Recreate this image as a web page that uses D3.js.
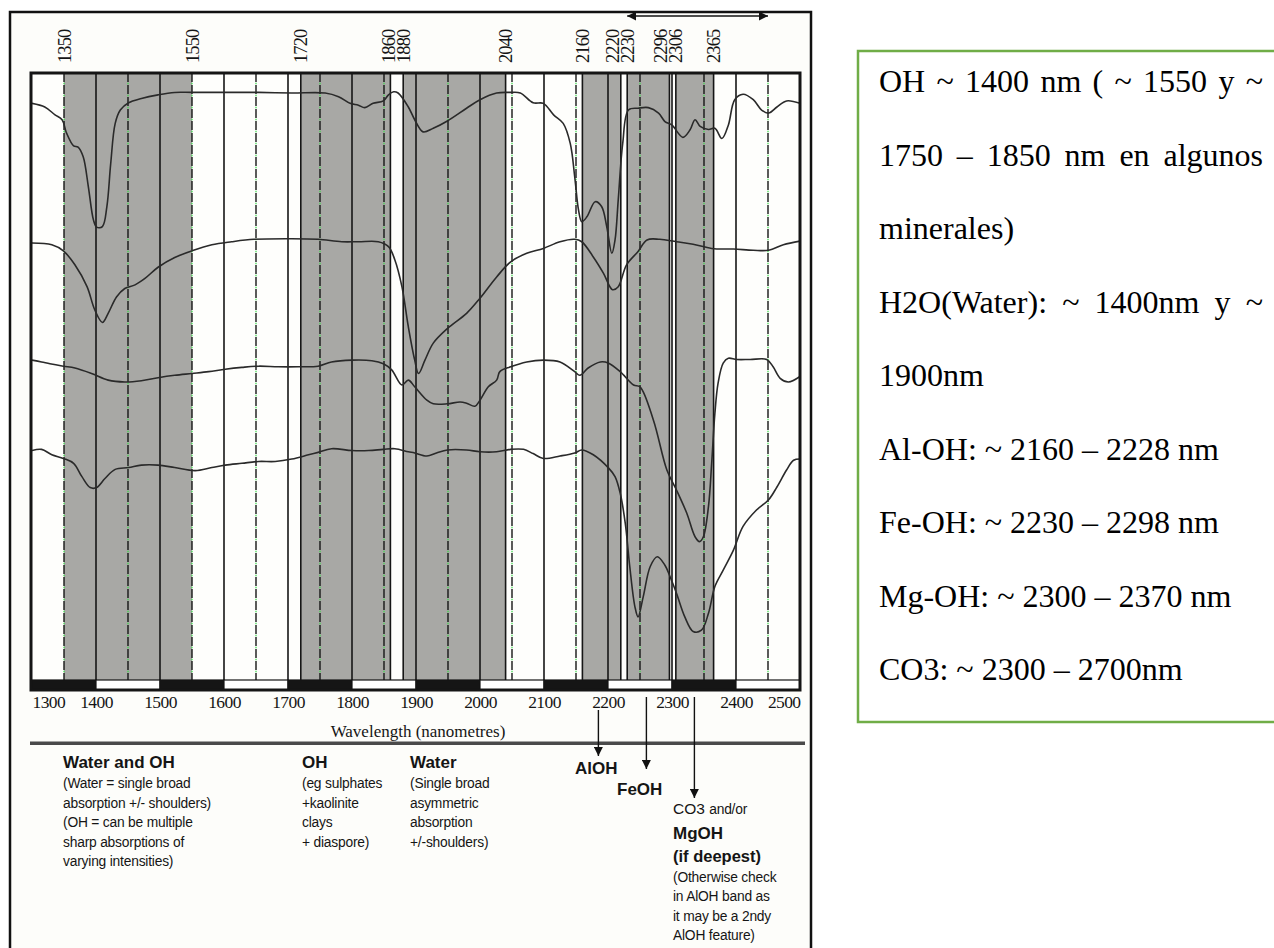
<!DOCTYPE html>
<html>
<head>
<meta charset="utf-8">
<script src="https://cdn.jsdelivr.net/npm/d3@7"></script>
<style>
  html, body { margin: 0; padding: 0; background: #fff; }
  svg { display: block; }
  .serif { font-family: "Liberation Serif", "Times New Roman", serif; }
  .sans { font-family: "Liberation Sans", Arial, sans-serif; }
</style>
</head>
<body>
<div id="chart"></div>
<script>
// ---------- data ----------
// absorption bands shaded in grey (nm)
const bands = [[1350, 1550], [1720, 1860], [1880, 2040], [2160, 2220], [2230, 2296], [2306, 2365]];
// wavelengths written vertically above the plot
const markerLabels = [1350, 1550, 1720, 1860, 1880, 2040, 2160, 2220, 2230, 2296, 2306, 2365];
const tickValues = [1300, 1400, 1500, 1600, 1700, 1800, 1900, 2000, 2100, 2200, 2300, 2400, 2500];
const topArrowRange = [2230, 2450];

// spectra: [wavelength nm, relative reflectance (offset)]
const spectrumA = [[1300,95.0],[1320,94.4],[1336,93.1],[1347,92.3],[1354,90.1],[1365,88.0],[1372,87.8],[1380,86.2],[1388,81.3],[1396,75.8],[1401,74.6],[1410,74.7],[1417,78.0],[1423,85.1],[1430,91.7],[1438,93.9],[1451,95.1],[1471,95.8],[1497,96.4],[1523,96.8],[1550,96.8],[1602,96.8],[1654,96.8],[1706,96.7],[1758,96.7],[1779,96.1],[1797,95.0],[1810,94.7],[1820,94.3],[1833,95.0],[1849,95.4],[1857,96.4],[1865,96.9],[1872,96.7],[1888,94.4],[1898,92.3],[1911,90.3],[1927,90.9],[1949,92.1],[1979,94.2],[2000,95.6],[2026,96.7],[2047,96.8],[2063,96.7],[2083,95.1],[2099,95.0],[2115,93.1],[2130,91.7],[2141,88.4],[2148,82.9],[2154,77.4],[2159,75.5],[2167,76.3],[2180,78.8],[2190,78.0],[2198,74.7],[2206,70.3],[2211,72.5],[2216,79.1],[2223,88.4],[2232,93.9],[2247,94.2],[2263,94.3],[2279,93.4],[2289,92.0],[2300,91.4],[2317,89.4],[2328,90.6],[2336,92.3],[2344,91.2],[2357,90.7],[2367,90.9],[2378,89.2],[2388,91.4],[2398,95.6],[2411,96.5],[2427,95.6],[2440,93.9],[2451,93.4],[2464,94.4],[2479,95.4],[2500,95.0]];
const spectrumB = [[1300,72.0],[1331,71.7],[1349,70.7],[1367,68.4],[1386,64.8],[1398,61.0],[1410,58.9],[1419,60.4],[1432,63.1],[1445,64.5],[1461,65.1],[1477,66.2],[1497,68.0],[1523,69.6],[1550,70.7],[1581,71.7],[1612,72.2],[1647,72.6],[1706,72.7],[1747,72.6],[1784,72.2],[1810,72.2],[1841,72.2],[1857,71.4],[1867,69.2],[1878,64.8],[1888,58.2],[1898,52.7],[1904,50.5],[1914,52.7],[1927,55.5],[1949,57.9],[1979,60.4],[2000,62.9],[2026,66.4],[2048,68.9],[2073,70.3],[2099,71.1],[2125,72.2],[2148,72.6],[2159,72.2],[2177,69.7],[2193,67.0],[2207,64.3],[2216,64.8],[2229,68.4],[2247,70.6],[2261,72.5],[2281,72.6],[2307,72.2],[2333,71.8],[2362,71.1],[2396,71.0],[2427,70.8],[2451,70.8],[2474,71.7],[2500,72.3]];
const spectrumC = [[1300,52.7],[1315,52.4],[1328,52.1],[1349,51.7],[1367,51.4],[1393,50.5],[1419,49.4],[1445,49.1],[1471,49.3],[1497,49.8],[1523,50.2],[1550,50.5],[1576,50.8],[1602,51.2],[1628,51.5],[1654,51.7],[1685,51.6],[1716,51.6],[1747,51.7],[1768,52.4],[1800,52.7],[1831,52.6],[1849,52.1],[1862,51.1],[1878,48.6],[1888,49.4],[1898,48.3],[1917,46.1],[1927,45.5],[1949,45.5],[1969,45.8],[1979,45.6],[1992,45.1],[2000,46.1],[2013,48.3],[2026,49.4],[2031,50.8],[2048,51.6],[2073,52.4],[2099,52.7],[2125,52.4],[2148,50.8],[2156,50.2],[2169,51.4],[2188,52.4],[2201,52.2],[2219,50.8],[2240,48.6],[2250,48.3],[2271,42.8],[2292,34.6],[2307,31.3],[2323,27.5],[2336,23.6],[2343,22.8],[2349,23.6],[2357,28.6],[2362,35.7],[2367,43.9],[2372,48.9],[2380,52.2],[2388,53.0],[2401,52.8],[2422,52.8],[2448,52.8],[2458,51.6],[2469,49.7],[2482,49.1],[2500,50.0]];
const spectrumD = [[1300,37.8],[1315,38.0],[1331,37.1],[1349,36.5],[1365,35.7],[1378,33.5],[1391,31.7],[1401,31.7],[1414,33.2],[1430,34.7],[1451,35.0],[1471,35.4],[1497,35.4],[1523,35.0],[1555,34.5],[1581,35.0],[1602,35.4],[1628,35.7],[1654,36.0],[1680,36.0],[1706,36.4],[1732,37.1],[1747,37.5],[1768,38.1],[1800,37.8],[1826,37.8],[1849,38.0],[1867,38.1],[1888,37.6],[1898,37.4],[1917,36.9],[1932,37.4],[1949,37.9],[1979,37.9],[2000,37.6],[2026,37.6],[2048,38.0],[2068,38.0],[2083,37.3],[2099,36.5],[2125,36.9],[2148,37.4],[2159,37.9],[2177,37.1],[2201,34.9],[2211,33.5],[2219,30.8],[2227,25.8],[2234,18.7],[2242,12.1],[2247,10.4],[2255,13.7],[2266,18.7],[2277,20.3],[2289,18.9],[2297,17.0],[2307,14.3],[2320,10.4],[2333,8.0],[2346,8.2],[2357,11.0],[2367,15.4],[2380,18.1],[2396,21.4],[2411,25.3],[2432,28.0],[2451,29.7],[2464,31.8],[2479,34.6],[2490,36.2],[2500,36.4]];

// feature pointers under the axis
const featureArrows = [
  { nm: 2185, y0: 710, y1: 756 },
  { nm: 2260, y0: 697, y1: 769 },
  { nm: 2335, y0: 697, y1: 798 }
];

// text notes under the chart
const noteWaterOH = ['(Water = single broad', 'absorption +/- shoulders)', '(OH = can be multiple', 'sharp absorptions of', 'varying intensities)'];
const noteOH = ['(eg sulphates', '+kaolinite', 'clays', '+ diaspore)'];
const noteWater = ['(Single broad', 'asymmetric', 'absorption', '+/-shoulders)'];
const noteMgOH = ['(Otherwise check', 'in AlOH band as', 'it may be a 2ndy', 'AlOH feature)'];

// side box text (Spanish), [line, justified?]
const boxLines = [
  ['OH ~ 1400 nm ( ~ 1550 y  ~', true],
  ['1750 \u2013 1850 nm en algunos', true],
  ['minerales)', false],
  ['H2O(Water): ~ 1400nm y ~', true],
  ['1900nm', false],
  ['Al-OH: ~ 2160 \u2013 2228 nm', false],
  ['Fe-OH: ~ 2230 \u2013 2298 nm', false],
  ['Mg-OH: ~ 2300 \u2013 2370 nm', false],
  ['CO3: ~ 2300 \u2013 2700nm', false]
];

// ---------- drawing ----------
const W = 1274, H = 948;
const plot = { left: 32, right: 800, top: 73, bottom: 680, bar: 10 };

const svg = d3.select('#chart').append('svg').attr('width', W).attr('height', H);

const defs = svg.append('defs');
defs.append('marker')
  .attr('id', 'arrow')
  .attr('viewBox', '0 0 10 10')
  .attr('refX', 10).attr('refY', 5)
  .attr('markerUnits', 'userSpaceOnUse')
  .attr('markerWidth', 9).attr('markerHeight', 9)
  .attr('orient', 'auto-start-reverse')
  .append('path').attr('d', 'M0,0L10,5L0,10z').attr('fill', '#111');
defs.append('clipPath').attr('id', 'plotClip')
  .append('rect')
  .attr('x', plot.left).attr('y', plot.top)
  .attr('width', plot.right - plot.left).attr('height', plot.bottom - plot.top);

const x = d3.scaleLinear().domain([1300, 2500]).range([plot.left, plot.right]);
const y = d3.scaleLinear().domain([0, 100]).range([plot.bottom, plot.top]);

// outer scanned page frame
svg.append('rect')
  .attr('x', 10).attr('y', 12).attr('width', 801).attr('height', 960)
  .attr('fill', '#fdfdfa').attr('stroke', '#111').attr('stroke-width', 2.5);

// top double-headed arrow
svg.append('line')
  .attr('x1', x(topArrowRange[0])).attr('x2', x(topArrowRange[1]))
  .attr('y1', 16).attr('y2', 16)
  .attr('stroke', '#111').attr('stroke-width', 1.5)
  .attr('marker-start', 'url(#arrow)').attr('marker-end', 'url(#arrow)');

const chart = svg.append('g');

chart.append('rect')
  .attr('x', plot.left).attr('y', plot.top)
  .attr('width', plot.right - plot.left).attr('height', plot.bottom - plot.top)
  .attr('fill', '#fefefc');

// grey bands
chart.selectAll('rect.band').data(bands).join('rect')
  .attr('class', 'band')
  .attr('x', d => x(d[0])).attr('width', d => x(d[1]) - x(d[0]))
  .attr('y', plot.top).attr('height', plot.bottom - plot.top)
  .attr('fill', '#a8a8a5');

// solid lines: every 100 nm plus band edges that are not on a dash-dot line
const solidLines = d3.range(1400, 2500, 100)
  .concat(bands.flat().filter(v => v % 50 !== 0));
chart.selectAll('line.solid').data(solidLines).join('line')
  .attr('class', 'solid')
  .attr('x1', d => x(d)).attr('x2', d => x(d))
  .attr('y1', plot.top).attr('y2', plot.bottom)
  .attr('stroke', '#161616').attr('stroke-width', 1.6);

// dash-dot lines every 100 nm offset by 50
const dashLines = d3.range(1350, 2500, 100);
chart.selectAll('line.dash').data(dashLines).join('line')
  .attr('class', 'dash')
  .attr('x1', d => x(d)).attr('x2', d => x(d))
  .attr('y1', plot.top).attr('y2', plot.bottom)
  .attr('stroke', '#161616').attr('stroke-width', 1.4)
  .attr('stroke-dasharray', '9,3');
chart.selectAll('line.dot').data(dashLines).join('line')
  .attr('class', 'dot')
  .attr('x1', d => x(d)).attr('x2', d => x(d))
  .attr('y1', plot.top).attr('y2', plot.bottom)
  .attr('stroke', '#33dd44').attr('stroke-width', 1.4)
  .attr('stroke-dasharray', '1.4,10.6').attr('stroke-dashoffset', -9.8)
  .attr('opacity', 0.85);

// spectra
const line = d3.line()
  .x(d => x(d[0])).y(d => y(d[1]))
  .curve(d3.curveCatmullRom.alpha(0.5));
chart.append('g').attr('clip-path', 'url(#plotClip)')
  .selectAll('path').data([spectrumA, spectrumB, spectrumC, spectrumD]).join('path')
  .attr('d', line)
  .attr('fill', 'none').attr('stroke', '#2a2a2a').attr('stroke-width', 1.6);

// scale bar (alternating 100 nm blocks)
const blocks = d3.range(1300, 2500, 100);
chart.selectAll('rect.block').data(blocks).join('rect')
  .attr('class', 'block')
  .attr('x', d => x(d)).attr('width', d => x(d + 100) - x(d))
  .attr('y', plot.bottom).attr('height', plot.bar)
  .attr('fill', (d, i) => i % 2 === 0 ? '#151515' : '#fff')
  .attr('stroke', '#151515').attr('stroke-width', 1.2);

// plot frame
chart.append('rect')
  .attr('x', plot.left - 1).attr('y', plot.top)
  .attr('width', plot.right - plot.left + 1).attr('height', plot.bottom + plot.bar - plot.top)
  .attr('fill', 'none').attr('stroke', '#151515').attr('stroke-width', 3);

// x axis labels
const axis = d3.axisBottom(x).tickValues(tickValues).tickSize(0).tickPadding(6).tickFormat(d3.format('d'));
const axG = chart.append('g')
  .attr('transform', `translate(0,${plot.bottom + plot.bar})`)
  .call(axis);
axG.select('.domain').remove();
axG.selectAll('text')
  .attr('font-family', '"Liberation Serif", serif')
  .attr('font-size', 17.5).attr('letter-spacing', -0.6)
  .attr('fill', '#151515')
  .attr('text-anchor', d => d === 1300 ? 'start' : d === 2500 ? 'end' : 'middle');

chart.append('text')
  .attr('class', 'serif')
  .attr('x', 418).attr('y', 737)
  .attr('text-anchor', 'middle')
  .attr('font-size', 17).attr('fill', '#151515')
  .text('Wavelength (nanometres)');

// vertical wavelength markers above the plot (push crowded ones apart)
const markerPos = markerLabels.map(v => ({ v, px: x(v) }));
for (let i = markerPos.length - 2; i >= 0; i--) {
  const gap = markerPos[i + 1].px - markerPos[i].px;
  if (gap < 15) markerPos[i].px = markerPos[i + 1].px - 15;
}
chart.selectAll('text.marker').data(markerPos).join('text')
  .attr('class', 'serif marker')
  .attr('transform', d => `translate(${d.px + 6.5},63) rotate(-90)`)
  .attr('font-size', 18.5).attr('letter-spacing', -0.9)
  .attr('fill', '#151515')
  .text(d => d.v);

// separator under the axis
svg.append('rect')
  .attr('x', 30).attr('y', 741.5).attr('width', 775).attr('height', 3.5)
  .attr('fill', '#4a4a4a');

// feature pointers
svg.selectAll('line.pointer').data(featureArrows).join('line')
  .attr('class', 'pointer')
  .attr('x1', d => x(d.nm)).attr('x2', d => x(d.nm))
  .attr('y1', d => d.y0).attr('y2', d => d.y1)
  .attr('stroke', '#111').attr('stroke-width', 1.4)
  .attr('marker-end', 'url(#arrow)');

// notes
const notes = svg.append('g').attr('class', 'sans').attr('fill', '#151515');

function noteBlock(x0, title, lines) {
  notes.append('text')
    .attr('x', x0).attr('y', 768)
    .attr('font-size', 17).attr('font-weight', 'bold')
    .text(title);
  notes.selectAll(null).data(lines).join('text')
    .attr('x', x0).attr('y', (d, i) => 788 + i * 19.6)
    .attr('font-size', 13.8).attr('letter-spacing', -0.2)
    .text(d => d);
}
noteBlock(63, 'Water and OH', noteWaterOH);
noteBlock(302, 'OH', noteOH);
noteBlock(410, 'Water', noteWater);

notes.append('text').attr('x', 575).attr('y', 774)
  .attr('font-size', 17).attr('font-weight', 'bold').text('AlOH');
notes.append('text').attr('x', 617).attr('y', 795)
  .attr('font-size', 17).attr('font-weight', 'bold').text('FeOH');
const co3 = notes.append('text').attr('x', 673).attr('y', 814);
co3.append('tspan').attr('font-size', 15.5).text('CO3 ');
co3.append('tspan').attr('font-size', 13.8).attr('letter-spacing', -0.2).text('and/or');
notes.append('text').attr('x', 673).attr('y', 839)
  .attr('font-size', 17).attr('font-weight', 'bold').text('MgOH');
notes.append('text').attr('x', 673).attr('y', 862)
  .attr('font-size', 16.5).attr('font-weight', 'bold').text('(if deepest)');
notes.selectAll(null).data(noteMgOH).join('text')
  .attr('x', 673).attr('y', (d, i) => 882 + i * 19.4)
  .attr('font-size', 13.8).attr('letter-spacing', -0.2)
  .text(d => d);

// side text box
svg.append('rect')
  .attr('x', 858).attr('y', 51).attr('width', 440).attr('height', 671)
  .attr('fill', '#fff').attr('stroke', '#70ad47').attr('stroke-width', 2.5);

const box = svg.append('g').attr('class', 'serif')
  .attr('font-size', 32).attr('fill', '#000');
const boxLeft = 879, boxRight = 1263;

boxLines.forEach(([txt, justify], i) => {
  const yb = 92 + i * 73.5;
  if (!justify) {
    box.append('text').attr('x', boxLeft).attr('y', yb).text(txt);
    return;
  }
  const words = txt.split(/\s+/);
  const nodes = words.map(w => box.append('text').attr('y', yb).text(w));
  const widths = nodes.map(n => n.node().getComputedTextLength());
  const gap = (boxRight - boxLeft - d3.sum(widths)) / (words.length - 1);
  let cx = boxLeft;
  nodes.forEach((n, j) => { n.attr('x', cx); cx += widths[j] + gap; });
});
</script>
</body>
</html>
